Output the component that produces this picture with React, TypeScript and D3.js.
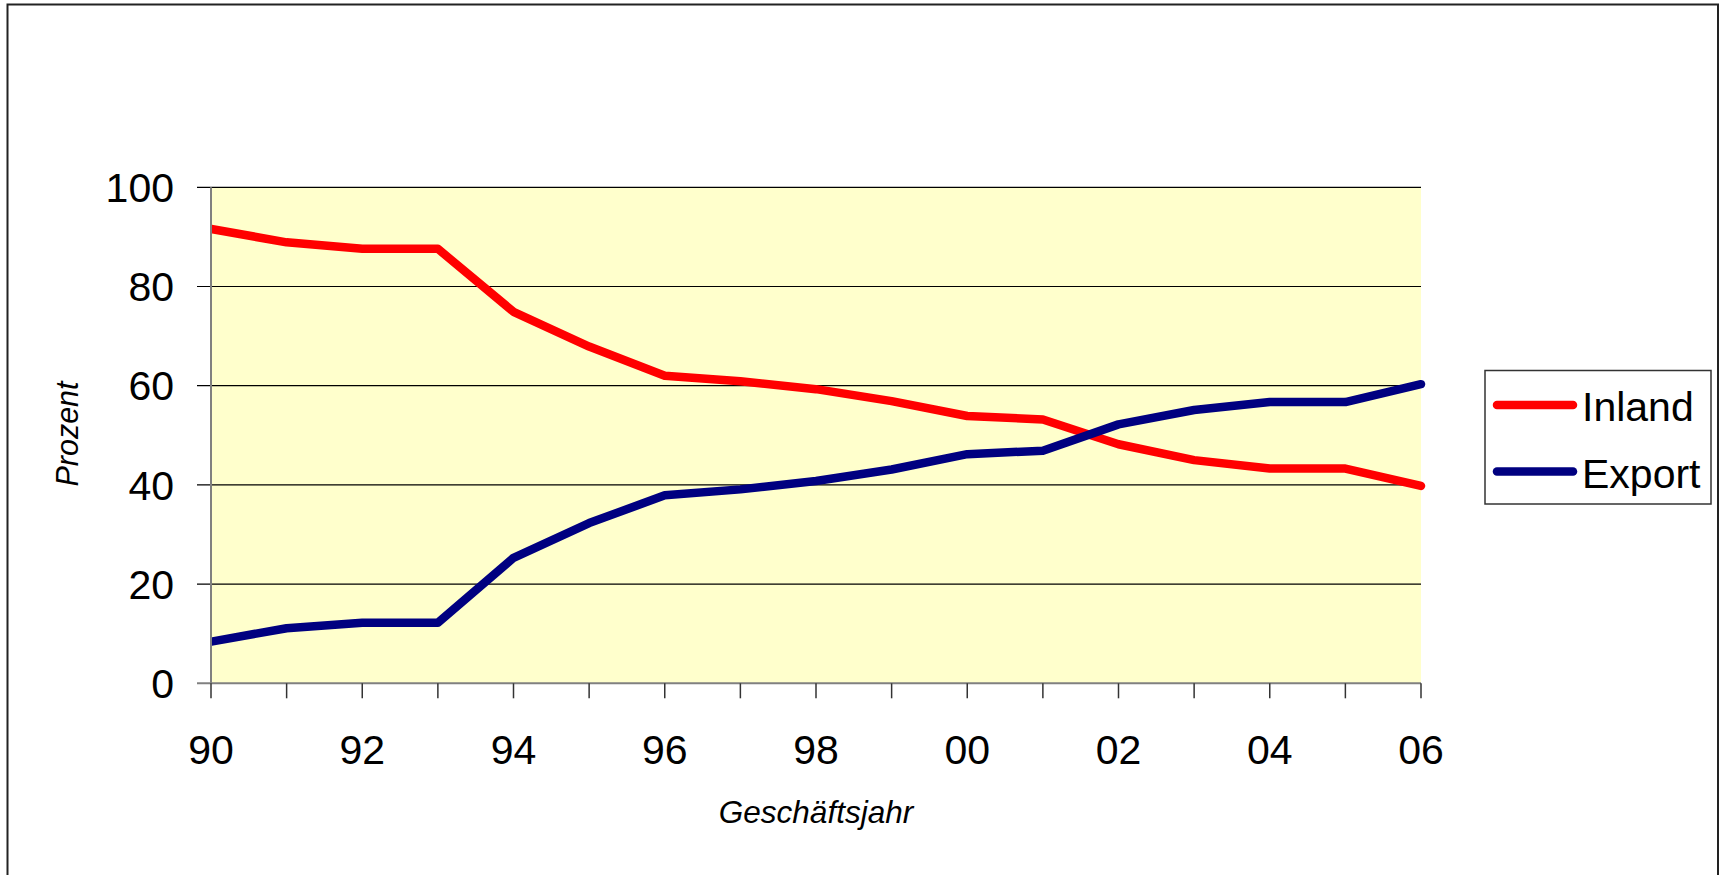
import React from 'react';
import * as d3 from 'd3';

// Geschäftsjahre 1990-2006, Anteil am Umsatz in Prozent
const years = ['90', '91', '92', '93', '94', '95', '96', '97', '98', '99', '00', '01', '02', '03', '04', '05', '06'];
const inland = [91.6, 88.9, 87.6, 87.6, 74.9, 67.9, 62.0, 60.9, 59.3, 56.9, 53.9, 53.2, 48.2, 45.0, 43.3, 43.3, 39.8];
const exportShare = [8.4, 11.1, 12.2, 12.2, 25.3, 32.3, 37.9, 39.1, 40.8, 43.1, 46.2, 46.9, 52.2, 55.1, 56.7, 56.7, 60.3];
const yTicks = [0, 20, 40, 60, 80, 100];
const seriesNames = ['Inland', 'Export'];
const seriesColors = ['#ff0000', '#000080'];

const W = 1723;
const H = 875;
const left = 211;
const right = 1421;
const top = 187.3;
const bottom = 683.3;
const font = '"Liberation Sans", Arial, sans-serif';

export default function App() {
  const x = d3.scaleLinear().domain([0, years.length - 1]).range([left, right]);
  const y = d3.scaleLinear().domain([0, 100]).range([bottom, top]);

  const line = d3
    .line<number>()
    .x((_, i) => x(i))
    .y((d) => y(d));

  const series = [inland, exportShare];

  return (
    <svg
      width={W}
      height={H}
      style={{ position: 'absolute', left: 0, top: 0, background: '#fff' }}
      xmlns="http://www.w3.org/2000/svg"
    >
      <defs>
        <clipPath id="plot-clip">
          <rect x={left + 1} y={0} width={W} height={H} />
        </clipPath>
      </defs>

      {/* outer frame, bottom edge falls outside the picture */}
      <rect x={7.5} y={4.5} width={1710.5} height={H + 20} fill="#fff" stroke="#222" strokeWidth={2} />

      {/* plot area */}
      <rect x={left} y={top} width={right - left} height={bottom - top} fill="#ffffcc" />

      <g key="grid">
        {yTicks.filter((t) => t > 0).map((t) => (
          <line key={`grid-${t}`} x1={left - 14} x2={right} y1={y(t)} y2={y(t)} stroke="#000" strokeWidth={1.2} />
        ))}
      </g>

      <g key="axes">
        <line x1={left} x2={left} y1={top} y2={bottom} stroke="#808080" strokeWidth={2} />
        <line x1={left - 14} x2={right} y1={bottom} y2={bottom} stroke="#808080" strokeWidth={2} />
        {years.map((yr, i) => (
          <line key={`xtick-${yr}`} x1={x(i)} x2={x(i)} y1={bottom} y2={bottom + 15} stroke="#333" strokeWidth={1.5} />
        ))}
      </g>

      <g key="y-labels" style={{ font: `41px ${font}` }} textAnchor="end" fill="#000">
        {yTicks.map((t) => (
          <text key={`ylab-${t}`} x={174} y={y(t)} dy="0.36em">
            {t}
          </text>
        ))}
      </g>

      <g key="x-labels" style={{ font: `41px ${font}` }} textAnchor="middle" fill="#000">
        {years.map((yr, i) =>
          i % 2 === 0 ? (
            <text key={`xlab-${yr}`} x={x(i)} y={764}>
              {yr}
            </text>
          ) : null
        )}
      </g>

      <text
        x={(left + right) / 2}
        y={823}
        textAnchor="middle"
        style={{ font: `italic 31.5px ${font}` }}
        fill="#000"
      >
        Geschäftsjahr
      </text>
      <text
        transform="translate(78,434) rotate(-90)"
        textAnchor="middle"
        style={{ font: `italic 30.5px ${font}` }}
        fill="#000"
      >
        Prozent
      </text>

      <g key="lines" clipPath="url(#plot-clip)">
        {series.map((s, k) => (
          <path
            key={`line-${seriesNames[k]}`}
            d={line(s) ?? ''}
            fill="none"
            stroke={seriesColors[k]}
            strokeWidth={8.5}
            strokeLinejoin="round"
            strokeLinecap="round"
          />
        ))}
      </g>

      <g key="legend">
        <rect x={1485} y={370.5} width={226} height={133.5} fill="#fff" stroke="#333" strokeWidth={1.5} />
        {seriesNames.map((name, k) => (
          <g key={`legend-${name}`} transform={`translate(0,${405 + k * 66.5})`}>
            <line x1={1497} x2={1573} y1={0} y2={0} stroke={seriesColors[k]} strokeWidth={8.5} strokeLinecap="round" />
            <text x={1582} y={16} style={{ font: `41px ${font}` }} fill="#000">
              {name}
            </text>
          </g>
        ))}
      </g>
    </svg>
  );
}
